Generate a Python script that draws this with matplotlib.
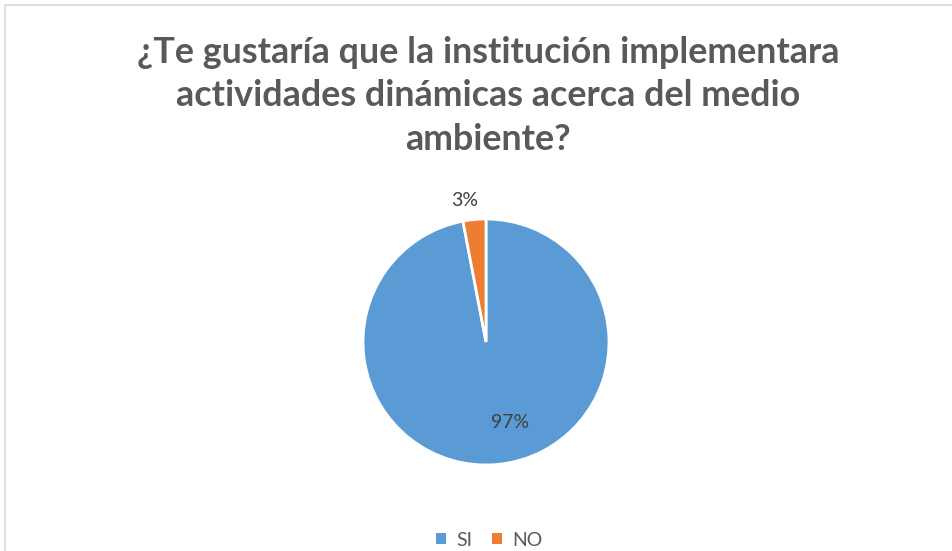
import matplotlib
matplotlib.use("Agg")
import matplotlib.pyplot as plt
from matplotlib.patches import Rectangle
import numpy as np

categories = ["SI", "NO"]
values = [97, 3]
colors = ["#5B9BD5", "#ED7D31"]
title = "¿Te gustaría que la institución implementara\nactividades dinámicas acerca del medio\nambiente?"

W, H = 952, 551
fig = plt.figure(figsize=(W / 100, H / 100), dpi=100)
fig.patch.set_facecolor("white")
plt.rcParams['font.family'] = ['Lato', 'DejaVu Sans']

# chart border
fig.patches.append(Rectangle((5 / W, -0.1), 1.2, (H - 5) / H + 0.1, transform=fig.transFigure,
                             fill=False, edgecolor="#D9D9D9", linewidth=1.2))

ax = fig.add_axes([0, 0, 1, 1])

cx, cy, r = 486, H - 342, 123
wedges, texts, autotexts = ax.pie(values, colors=colors, startangle=90, counterclock=False,
                                  center=(cx, cy), radius=r, explode=[0, 0.03],
                                  autopct="%1.0f%%", pctdistance=0.66,
                                  wedgeprops=dict(edgecolor="white", linewidth=2),
                                  textprops=dict(color="#404040", fontsize=14))
ax.set_xlim(0, W)
ax.set_ylim(0, H)
ax.set_aspect("equal")
ax.axis("off")
# label positions like Excel
autotexts[0].set_position((cx + 24, cy - 80))
autotexts[1].set_position((cx - 21, cy + 142))

fig.text(488 / W, 1 - 96 / H, title, ha="center", va="center", fontsize=25.8,
         fontweight="bold", color="#595959", linespacing=1.4)

leg = fig.legend(wedges, categories, loc="center", bbox_to_anchor=(489 / W, 1 - 540 / H),
                 ncol=2, frameon=False, fontsize=14, handlelength=0.55, handleheight=0.55,
                 handletextpad=0.5, columnspacing=1.0, labelcolor="#595959")
for h in leg.legend_handles:
    h.set_edgecolor("none")

fig.savefig("out.png", dpi=100, facecolor="white")
